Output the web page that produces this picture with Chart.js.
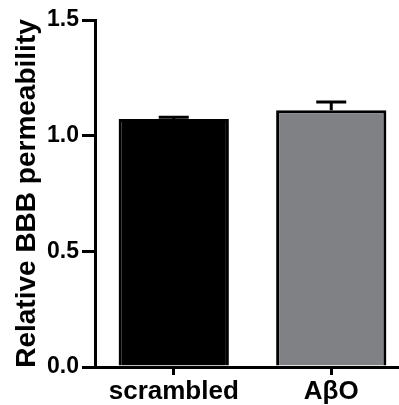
<!DOCTYPE html>
<html>
<head>
<meta charset="utf-8">
<script src="https://cdn.jsdelivr.net/npm/chart.js@4.4.1/dist/chart.umd.min.js"></script>
<style>
  html, body { margin: 0; padding: 0; background: #fff; overflow: hidden; }
  #wrap { width: 410px; height: 405px; }
</style>
</head>
<body>
<div id="wrap"><canvas id="bbb" width="410" height="405"></canvas></div>
<script>
const groups = ['scrambled', 'AβO'];
const meanPermeability = [1.072, 1.11];
const semPermeability = [0.008, 0.035];
const barColors = ['#000000', '#808184'];
const yTicks = [0, 0.5, 1.0, 1.5];

// upward-only error bars, drawn from the data through the scales
const errorBars = {
  id: 'errorBars',
  afterDatasetsDraw(chart) {
    const ctx = chart.ctx;
    const meta = chart.getDatasetMeta(0);
    const y = chart.scales.y;
    ctx.save();
    ctx.strokeStyle = '#000';
    ctx.lineWidth = 3;
    meta.data.forEach((bar, i) => {
      const top = y.getPixelForValue(meanPermeability[i] + semPermeability[i]);
      const base = y.getPixelForValue(meanPermeability[i]);
      ctx.beginPath();
      ctx.moveTo(bar.x, base);
      ctx.lineTo(bar.x, top);
      ctx.moveTo(bar.x - 15, top);
      ctx.lineTo(bar.x + 15, top);
      ctx.stroke();
    });
    ctx.restore();
  }
};

const font = { family: '"Liberation Sans", Arial, sans-serif', weight: 'bold' };

new Chart(document.getElementById('bbb').getContext('2d'), {
  type: 'bar',
  data: {
    labels: groups,
    datasets: [{
      data: meanPermeability,
      backgroundColor: barColors,
      borderColor: '#000',
      borderWidth: 3,
      borderSkipped: 'bottom',
      barPercentage: 0.7,
      categoryPercentage: 1.0
    }]
  },
  options: {
    responsive: false,
    animation: false,
    layout: { padding: { top: 20, right: 0, bottom: 0, left: 0 } },
    plugins: { legend: { display: false }, tooltip: { enabled: false } },
    scales: {
      x: {
        grid: { offset: false, drawOnChartArea: false, drawTicks: true, tickLength: 8, color: '#000', lineWidth: 3 },
        border: { display: true, color: '#000', width: 3 },
        ticks: { color: '#000', font: { ...font, size: 26 }, padding: 1, maxRotation: 0 },
        afterFit(scale) { scale.height = 38; }
      },
      y: {
        min: 0,
        max: 1.5,
        afterBuildTicks(scale) { scale.ticks = yTicks.map(v => ({ value: v })); },
        grid: { drawOnChartArea: false, drawTicks: true, tickLength: 13, color: '#000', lineWidth: 3 },
        border: { display: true, color: '#000', width: 3 },
        ticks: {
          color: '#000',
          font: { ...font, size: 23 },
          padding: 3,
          callback: v => v.toFixed(1)
        },
        title: {
          display: true,
          text: 'Relative BBB permeability',
          color: '#000',
          font: { ...font, size: 28 },
          padding: { top: 10, bottom: 0 }
        },
        afterFit(scale) { scale.width = 95; }
      }
    }
  },
  plugins: [errorBars]
});
</script>
</body>
</html>
